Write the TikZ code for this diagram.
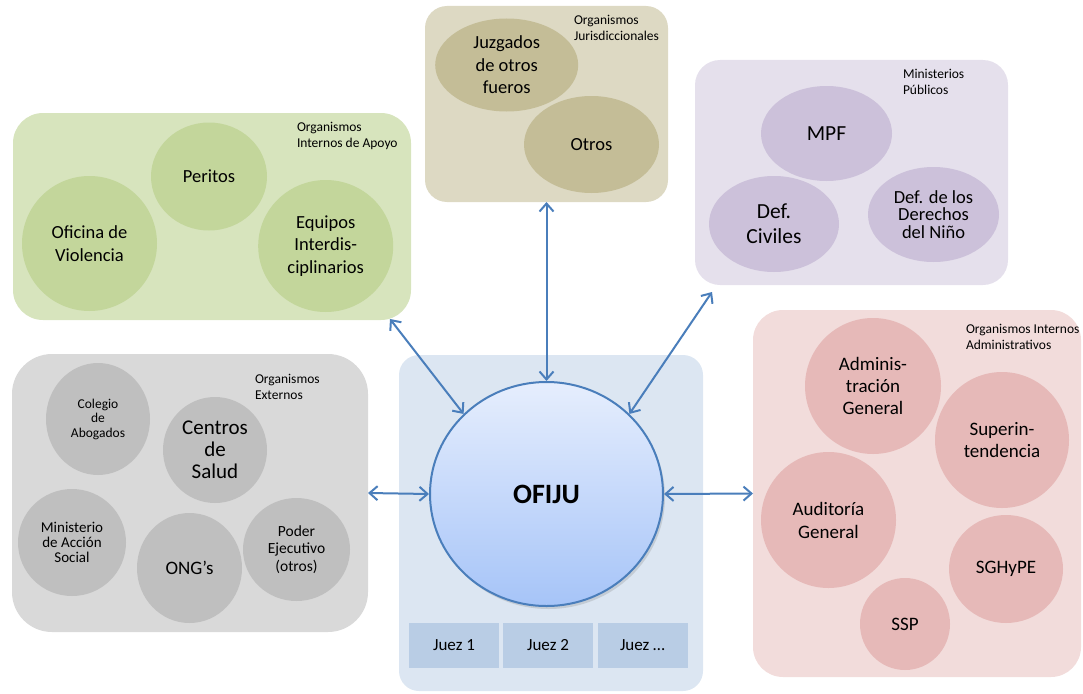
\documentclass[tikz,border=0pt]{standalone}
\usepackage{fontspec}
\setmainfont{Carlito}
\usetikzlibrary{shapes.geometric,arrows.meta,calc,shadows}
\definecolor{gboxc}{HTML}{D7E4BD}
\definecolor{gcirc}{HTML}{C3D69B}
\definecolor{tboxc}{HTML}{DDD9C3}
\definecolor{tcirc}{HTML}{C4BD97}
\definecolor{pboxc}{HTML}{E5E0EC}
\definecolor{pcirc}{HTML}{CCC1DA}
\definecolor{grboxc}{HTML}{D9D9D9}
\definecolor{grcirc}{HTML}{BFBFBF}
\definecolor{rboxc}{HTML}{F2DCDB}
\definecolor{rcirc}{HTML}{E6B9B8}
\definecolor{bboxc}{HTML}{DCE6F2}
\definecolor{jboxc}{HTML}{B9CDE5}
\definecolor{arrowblue}{HTML}{4A7EBB}
\definecolor{ofitop}{HTML}{E6EEFD}
\definecolor{ofibot}{HTML}{A6C4F8}
\newcommand\myfs[2]{\fontsize{#1}{#2}\selectfont}
\begin{document}
\begin{tikzpicture}[x=1pt,y=-1pt,
  grp/.style={rectangle, inner sep=0pt, outer sep=0pt},
  circ/.style={ellipse, inner sep=0pt, outer sep=0pt, align=center},
  lbl/.style={inner sep=0pt, outer sep=0pt, align=left, anchor=north west, font=\myfs{13.5}{16}},
  big/.style={font=\myfs{18.5}{22.5}},
  conn/.style={draw=arrowblue, line width=2pt, {Straight Barb[length=8pt,width=14pt]}-{Straight Barb[length=8pt,width=14pt]}},
  juez/.style={rectangle, fill=jboxc, inner sep=0pt, minimum width=90pt, minimum height=45pt, font=\myfs{17}{20}}]
\useasboundingbox (0,0) rectangle (1083,693);

% group boxes
\node[grp, fill=gboxc, rounded corners=30pt, minimum width=398pt, minimum height=207pt] (green) at (212,216.5) {};
\node[grp, fill=tboxc, rounded corners=22pt, minimum width=243pt, minimum height=196pt] (tan) at (546.5,104) {};
\node[grp, fill=pboxc, rounded corners=25pt, minimum width=313pt, minimum height=225pt] (purple) at (851.5,172.5) {};
\node[grp, fill=grboxc, rounded corners=40pt, minimum width=356pt, minimum height=278pt] (gray) at (190,493) {};
\node[grp, fill=rboxc, rounded corners=30pt, minimum width=328pt, minimum height=367pt] (pink) at (917,493.5) {};
\node[grp, fill=bboxc, rounded corners=20pt, minimum width=304pt, minimum height=336pt] (blue) at (551,523) {};

% group labels
\node[lbl] (lgreen) at (297,122) {Organismos\\Internos de Apoyo};
\node[lbl] (ltan) at (574,15) {Organismos\\Jurisdiccionales};
\node[lbl] (lpurple) at (903,69) {Ministerios\\Públicos};
\node[lbl] (lgray) at (255,374) {Organismos\\Externos};
\node[lbl] (lpink) at (966,324) {Organismos Internos\\Administrativos};

% green
\node[circ, big, fill=gcirc, minimum width=116pt, minimum height=108pt] (peritos) at (209,176.5) {Peritos};
\node[circ, big, fill=gcirc, minimum width=135pt, minimum height=135pt] (oficina) at (89.5,243.5) {Oficina de\\Violencia};
\node[circ, big, fill=gcirc, minimum width=135pt, minimum height=132pt] (equipos) at (325.7,246) {Equipos\\Interdis-\\ciplinarios};

% tan
\node[circ, big, fill=tcirc, minimum width=143pt, minimum height=93pt] (juzgados) at (506.7,65) {Juzgados\\de otros\\fueros};
\node[circ, big, fill=tcirc, minimum width=135pt, minimum height=97pt] (otros) at (591.5,144.5) {Otros};

% purple
\node[circ, font=\myfs{21.5}{25}, fill=pcirc, minimum width=131pt, minimum height=95pt] (mpf) at (826.5,133.5) {MPF};
\node[circ, font=\myfs{21.5}{25}, fill=pcirc, minimum width=130pt, minimum height=96pt] (defciv) at (774,224) {Def.\\Civiles};
\node[circ, font=\myfs{18.5}{17.5}, fill=pcirc, minimum width=131pt, minimum height=95pt] (defnino) at (933.5,214.5) {Def. de los\\Derechos\\del Niño};

% gray
\node[circ, font=\myfs{13.5}{14.5}, fill=grcirc, minimum width=104pt, minimum height=112pt] (colegio) at (98,419) {Colegio\\de\\Abogados};
\node[circ, font=\myfs{21}{22}, fill=grcirc, minimum width=104pt, minimum height=106pt] (centros) at (215,450) {Centros\\de\\Salud};
\node[circ, font=\myfs{15}{15}, fill=grcirc, minimum width=108pt, minimum height=107pt] (minist) at (72,542.5) {Ministerio\\de Acción\\Social};
\node[circ, font=\myfs{19}{22}, fill=grcirc, minimum width=105pt, minimum height=110pt] (ong) at (189.5,568) {ONG’s};
\node[circ, font=\myfs{15.5}{17.5}, fill=grcirc, minimum width=107pt, minimum height=103pt] (poder) at (296.5,549.5) {Poder\\Ejecutivo\\(otros)};

% pink
\node[circ, font=\myfs{19}{22}, fill=rcirc, minimum width=136pt, minimum height=136pt] (admin) at (873,386) {Adminis-\\tración\\General};
\node[circ, font=\myfs{19}{22}, fill=rcirc, minimum width=134pt, minimum height=136pt] (superin) at (1002,440) {Superin-\\tendencia};
\node[circ, font=\myfs{19}{23}, fill=rcirc, minimum width=135pt, minimum height=136pt] (audit) at (828.5,520) {Auditoría\\General};
\node[circ, font=\myfs{19}{22}, fill=rcirc, minimum width=114pt, minimum height=108pt] (sghype) at (1006,569) {SGHyPE};
\node[circ, font=\myfs{19}{22}, fill=rcirc, minimum width=90pt, minimum height=92pt] (ssp) at (905,624) {SSP};

% center
\node[ellipse, inner sep=0pt, draw=arrowblue, line width=2pt, top color=ofitop, bottom color=ofibot,
      drop shadow={opacity=0.25, shadow xshift=2pt, shadow yshift=-3pt},
      minimum width=233pt, minimum height=224pt, font=\bfseries\myfs{28}{30}] (ofiju) at (546.5,494) {OFIJU};
\node[juez] (j1) at (454,645.5) {Juez 1};
\node[juez] (j2) at (548,645.5) {Juez 2};
\node[juez] (j3) at (642.5,645.5) {Juez …};

% connectors
\coordinate (gtip) at ($(green.south east)+(-21,-1)$);
\coordinate (ptip) at ($(purple.south west)+(17,7)$);
\draw[conn] (tan.south) -- (ofiju.north);
\draw[conn] (gtip) -- (ofiju.136);
\draw[conn] (ptip) -- (ofiju.44);
\draw[conn] (gray.east) -- (ofiju.west);
\draw[conn] (pink.west) -- (ofiju.east);
\end{tikzpicture}
\end{document}
